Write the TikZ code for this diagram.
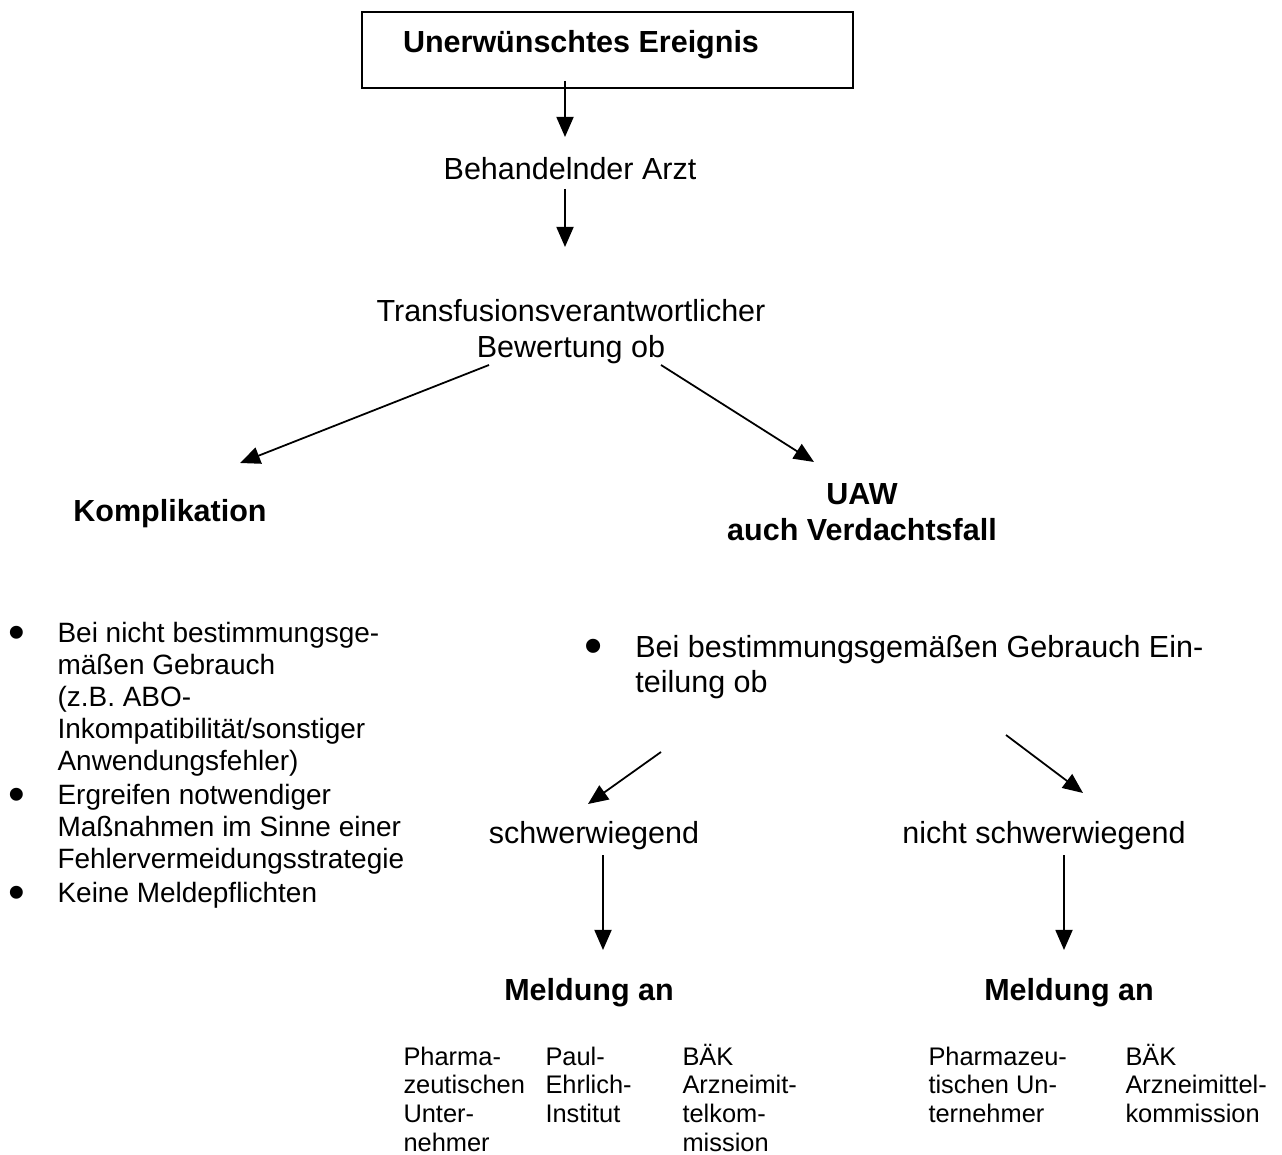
\documentclass[tikz,border=0pt]{standalone}
\usepackage{fontspec}
\setmainfont{Liberation Sans}
\usetikzlibrary{arrows.meta,calc}
\newcommand{\listpunkt}[1]{\raisebox{#1}{\scalebox{1.7}{\textbullet}}}

\begin{document}
\begin{tikzpicture}[x=0.3934pt, y=-0.3934pt,
        txt/.style={inner sep=0pt, anchor=base, font=\fontsize{12}{14}\selectfont},
        fett/.style={txt, font=\fontsize{12}{13.8}\selectfont\bfseries},
        klein/.style={inner sep=0pt, anchor=base west, font=\fontsize{10}{11.4}\selectfont},
        pfeil/.style={line width=0.7pt, -{Triangle[length=7.9pt,width=6.7pt]}}]
    \useasboundingbox (0,0) rectangle (1282,1155);
    %\draw[lightgray] (0,0) grid (1282,1155);
    \node[draw, line width=0.7pt, minimum width=193.2pt, minimum height=29.9pt] (ereignis) at (607.5,50) {};
    \node[fett] (titel) at (581,53) {Unerwünschtes Ereignis};
    \node[txt] (arzt) at (570,180) {Behandelnder Arzt};
    \node[txt] (tv) at (571,322) {\begin{tabular}[t]{@{}c@{}}Transfusionsverantwortlicher\\Bewertung ob\end{tabular}};
    \node[fett] (kompl) at (170,522) {Komplikation};
    \node[fett] (uaw) at (862,505) {\begin{tabular}[t]{@{}c@{}}UAW\\auch Verdachtsfall\end{tabular}};

    % Komplikation
    \node[inner sep=0pt, anchor=base west, font=\fontsize{11}{12.6}\selectfont] (kompliste) at (8,642) {\begin{tabular}[t]{@{}p{19.3pt}@{}l@{}}
        \listpunkt{-2.4pt} & Bei nicht bestimmungsge-\\
        & mäßen Gebrauch\\
        & (z.B. ABO-\\
        & Inkompatibilität/sonstiger\\
        & Anwendungsfehler)\\[0.8pt]
        \listpunkt{-2.4pt} & Ergreifen notwendiger\\
        & Maßnahmen im Sinne einer\\
        & Fehlervermeidungsstrategie\\[0.8pt]
        \listpunkt{-2.4pt} & Keine Meldepflichten
    \end{tabular}};

    % UAW
    \node[txt, anchor=base west] (gebrauch) at (584,657) {\begin{tabular}[t]{@{}p{20pt}@{}l@{}}
        \listpunkt{-2.6pt} & Bei bestimmungsgemäßen Gebrauch Ein-\\
        & teilung ob
    \end{tabular}};
    \node[txt] (schwer) at (594,843) {schwerwiegend};
    \node[txt] (nschwer) at (1044,843) {nicht schwerwiegend};
    \node[fett] (meld1) at (589,1000) {Meldung an};
    \node[fett] (meld2) at (1069,1000) {Meldung an};

    \node[klein] (pu1) at (403,1065) {\begin{tabular}[t]{@{}l@{}}Pharma-\\zeutischen\\Unter-\\nehmer\end{tabular}};
    \node[klein] (pei) at (545,1065) {\begin{tabular}[t]{@{}l@{}}Paul-\\Ehrlich-\\Institut\end{tabular}};
    \node[klein] (baek1) at (682,1065) {\begin{tabular}[t]{@{}l@{}}BÄK\\Arzneimit-\\telkom-\\mission\end{tabular}};
    \node[klein] (pu2) at (928,1065) {\begin{tabular}[t]{@{}l@{}}Pharmazeu-\\tischen Un-\\ternehmer\end{tabular}};
    \node[klein] (baek2) at (1125,1065) {\begin{tabular}[t]{@{}l@{}}BÄK\\Arzneimittel-\\kommission\end{tabular}};

    \draw[pfeil] ($(ereignis.south)+(-42.5,-8)$) -- ($(arzt.base)+(-5,-43)$);
    \draw[pfeil] ($(arzt.base)+(-5,9)$) -- ($(tv.base)+(-6,-75)$);
    \draw[pfeil] ($(tv.base)+(-82,43)$) -- ($(kompl.base)+(70,-59)$);
    \draw[pfeil] ($(tv.base)+(90,43)$) -- ($(uaw.base)+(-48,-43)$);
    \draw[pfeil] ($(schwer.base)+(67,-91)$) -- ($(schwer.base)+(-6,-39)$);
    \draw[pfeil] ($(nschwer.base)+(-38,-108)$) -- ($(nschwer.base)+(39,-50)$);
    \draw[pfeil] ($(schwer.base)+(9,12)$) -- ($(meld1.base)+(14,-50)$);
    \draw[pfeil] ($(nschwer.base)+(20,12)$) -- ($(meld2.base)+(-5,-50)$);
\end{tikzpicture}
\end{document}
